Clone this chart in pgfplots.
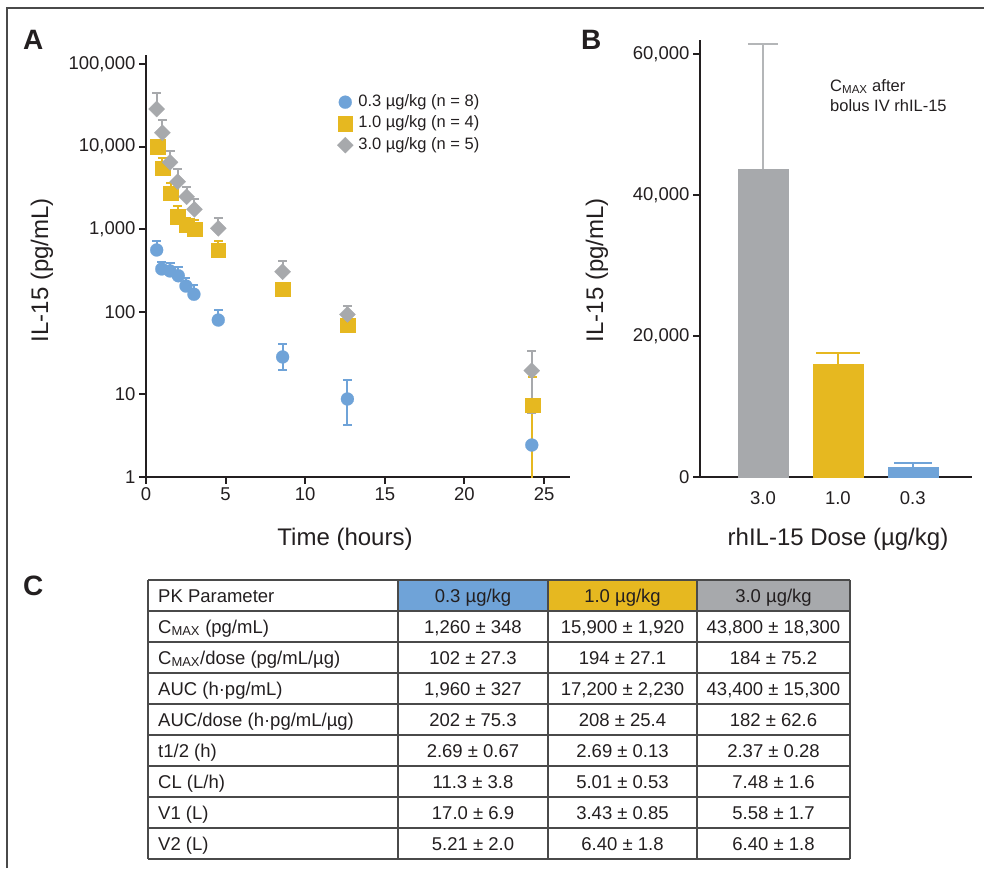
\documentclass[border=0pt]{standalone}
\usepackage{pgfplots}
\pgfplotsset{compat=1.18}
\usepackage{pgfplotstable}
\usepackage{fontspec}
\setmainfont{Liberation Sans}

\definecolor{doseblue}{HTML}{6FA3D8}
\definecolor{doseyellow}{HTML}{E6B820}
\definecolor{dosegray}{HTML}{A7A9AC}
\definecolor{ink}{HTML}{231F20}
\definecolor{rule}{HTML}{4A4A4A}

\newcommand{\tickfont}{\fontsize{18.5}{22}\selectfont}
\newcommand{\labfont}{\fontsize{24}{28}\selectfont}
\newcommand{\legfont}{\fontsize{16.5}{20}\selectfont}
\newcommand{\tabfont}{\fontsize{18.5}{22}\selectfont}
\newcommand{\panelfont}{\fontsize{28}{32}\selectfont\bfseries}

% panel A: mean IL-15 vs time, error = upper (ep) and lower (em)
\pgfplotstableread{
x     y     ep    em
0.67  560   160   0
0.99  330   74    0
1.51  312   81    0
2.03  273   79    0
2.51  205   54    0
3.01  163   48    0
4.54  79.5  25.5  0
8.58  28.4  12.4  8.7
12.65 8.8   6.1   4.5
24.23 2.44  0     0
}\blueA
\pgfplotstableread{
x     y     ep    em
0.73  9980  2000  0
1.03  5460  1750  0
1.55  2720  870   0
1.99  1417  493   0
2.55  1125  230   0
3.04  1005  285   0
4.54  560   160   0
8.58  187   0     0
12.65 69    0     0
24.27 7.44  9.0   7.43
}\yellowA
\pgfplotstableread{
x     y     ep    em
0.67  28500 15700 0
1.03  14700 6300  0
1.51  6460  2390  0
1.99  3760  1550  0
2.55  2470  800   0
3.04  1740  600   0
4.54  1025  342   0
8.58  306   106   0
12.65 93    24    0
24.23 19.4  14.4  13.5
}\grayA

\newcommand{\tabrow}[5]{%
  \pgfmathsetmacro{\rb}{-(580+31*#1+22)}%
  \node[anchor=base west, inner sep=0pt] at (158,\rb) {\tabfont #2};
  \node[anchor=base, inner sep=0pt] at (473,\rb) {\tabfont #3};
  \node[anchor=base, inner sep=0pt] at (622.5,\rb) {\tabfont #4};
  \node[anchor=base, inner sep=0pt] at (773.5,\rb) {\tabfont #5};
}

\begin{document}
\begin{tikzpicture}[x=1pt,y=1pt]
\useasboundingbox (0,0) rectangle (984,-868);

% outer frame (top and left only)
\draw[rule, line width=1.5pt] (7,-868) -- (7,-8) -- (984,-8);

% ---------------- Panel A ----------------
\begin{axis}[
  at={(146pt,-477pt)}, anchor=south west,
  scale only axis, width=424pt, height=422pt,
  xmin=0, xmax=26.63, ymode=log, ymin=1, ymax=128500,
  axis lines=left, axis line style={-, line width=2pt, ink},
  xtick={0,5,10,15,20,25}, xticklabels={0,5,10,15,20,25},
  ytick={1,10,100,1000,10000,100000},
  yticklabels={1,10,100,{1,000},{10,000},{100,000}},
  yminorticks=false,
  tick align=outside, major tick length=7pt,
  tick style={ink, line width=2pt},
  tick label style={font=\tickfont, text=ink},
  legend cell align=left,
  legend image code/.code={\draw[#1] plot coordinates {(0pt,0pt)};},
  legend style={at={(rel axis cs:0.4505,0.91)}, anchor=north west,
    draw=none, fill=none, inner sep=0pt, column sep=4pt, row sep=3.5pt,
    font=\legfont, text=ink,
    nodes={inner sep=1pt, text height=12pt, text depth=4pt}},
]
% error bars first, markers on top
\addplot[doseblue, only marks, mark=none, forget plot,
  error bars/.cd, y dir=both, y explicit,
  error bar style={line width=2pt, doseblue},
  error mark options={rotate=90, mark size=4.5pt, line width=2pt, doseblue}]
  table[x=x, y=y, y error plus=ep, y error minus=em] {\blueA};
\addplot[doseyellow, only marks, mark=none, forget plot,
  error bars/.cd, y dir=both, y explicit,
  error bar style={line width=2pt, doseyellow},
  error mark options={rotate=90, mark size=4.5pt, line width=2pt, doseyellow}]
  table[x=x, y=y, y error plus=ep, y error minus=em] {\yellowA};
\addplot[dosegray, only marks, mark=none, forget plot,
  error bars/.cd, y dir=both, y explicit,
  error bar style={line width=2pt, dosegray},
  error mark options={rotate=90, mark size=4.5pt, line width=2pt, dosegray}]
  table[x=x, y=y, y error plus=ep, y error minus=em] {\grayA};

\addplot[doseblue, only marks, mark=*, mark size=6.5pt,
  mark options={fill=doseblue, draw=doseblue, line width=0.2pt}] table[x=x, y=y] {\blueA};
\addplot[doseyellow, only marks, mark=square*, mark size=7.2pt,
  mark options={fill=doseyellow, draw=doseyellow, line width=0.2pt}] table[x=x, y=y] {\yellowA};
\addplot[dosegray, only marks, mark=square*, mark size=5.7pt,
  mark options={fill=dosegray, draw=dosegray, line width=0.2pt, rotate=45}] table[x=x, y=y] {\grayA};
\legend{0.3 µg/kg (n = 8), 1.0 µg/kg (n = 4), 3.0 µg/kg (n = 5)}
\end{axis}

% ---------------- Panel B ----------------
\begin{axis}[
  at={(700pt,-477pt)}, anchor=south west,
  scale only axis, width=272pt, height=437pt,
  xmin=-0.84, xmax=2.79, ymin=0, ymax=62000,
  axis lines=left, axis line style={-, line width=2pt, ink},
  xtick={0,1,2}, xticklabels={3.0,1.0,0.3}, xtick style={draw=none},
  ytick={0,20000,40000,60000}, yticklabels={0,{20,000},{40,000},{60,000}},
  scaled y ticks=false,
  tick align=outside, major tick length=7pt,
  ytick style={ink, line width=2pt},
  tick label style={font=\tickfont, text=ink},
  xticklabel style={yshift=-4pt},
]
\addplot[ybar, bar width=50pt, bar shift=0pt, fill=dosegray, draw=dosegray, line width=0.1pt,
  error bars/.cd, y dir=plus, y explicit,
  error bar style={line width=1.8pt, dosegray!85!white},
  error mark options={rotate=90, mark size=15pt, line width=1.8pt, dosegray!85!white}]
  coordinates {(0,43700) +- (0,17700)};
\addplot[ybar, bar width=50pt, bar shift=0pt, fill=doseyellow, draw=doseyellow, line width=0.1pt,
  error bars/.cd, y dir=plus, y explicit,
  error bar style={line width=2pt, doseyellow},
  error mark options={rotate=90, mark size=22pt, line width=2pt, doseyellow}]
  coordinates {(1,16000) +- (0,1650)};
\addplot[ybar, bar width=50pt, bar shift=0pt, fill=doseblue, draw=doseblue, line width=0.1pt,
  error bars/.cd, y dir=plus, y explicit,
  error bar style={line width=1.8pt, doseblue},
  error mark options={rotate=90, mark size=19pt, line width=1.8pt, doseblue}]
  coordinates {(2,1420) +- (0,570)};
\end{axis}

% panel letters and axis titles
\node[anchor=base west, inner sep=0pt, text=ink] at (23,-49) {\panelfont A};
\node[anchor=base west, inner sep=0pt, text=ink] at (581,-49) {\panelfont B};
\node[anchor=base west, inner sep=0pt, text=ink] at (23,-595) {\panelfont C};

\node[rotate=90, text=ink] at (42,-270) {\labfont IL-15 (pg/mL)};
\node[anchor=base, text=ink, inner sep=0pt] at (345,-545) {\labfont Time (hours)};
\node[rotate=90, text=ink] at (597,-270) {\labfont IL-15 (pg/mL)};
\node[anchor=base, text=ink, inner sep=0pt] at (838,-545) {\labfont rhIL-15 Dose (µg/kg)};

\node[anchor=base west, inner sep=0pt, text=ink] at (830,-91) {\legfont C\textsubscript{MAX} after};
\node[anchor=base west, inner sep=0pt, text=ink] at (830,-111) {\legfont bolus IV rhIL-15};

% ---------------- Panel C: table ----------------
\fill[doseblue] (398,-580) rectangle (548,-611);
\fill[doseyellow] (548,-580) rectangle (697,-611);
\fill[dosegray] (697,-580) rectangle (850,-611);
\foreach \k in {0,...,9} {
  \draw[rule, line width=1.2pt] (148,{-580-31*\k}) -- (850,{-580-31*\k});
}
\foreach \cx in {148,398,548,697,850} {
  \draw[rule, line width=1.2pt] (\cx,-580) -- (\cx,-859);
}
\begin{scope}[text=ink]
\tabrow{0}{PK Parameter}{0.3 µg/kg}{1.0 µg/kg}{3.0 µg/kg}
\tabrow{1}{C\textsubscript{MAX} (pg/mL)}{1,260 ± 348}{15,900 ± 1,920}{43,800 ± 18,300}
\tabrow{2}{C\textsubscript{MAX}/dose (pg/mL/µg)}{102 ± 27.3}{194 ± 27.1}{184 ± 75.2}
\tabrow{3}{AUC (h·pg/mL)}{1,960 ± 327}{17,200 ± 2,230}{43,400 ± 15,300}
\tabrow{4}{AUC/dose (h·pg/mL/µg)}{202 ± 75.3}{208 ± 25.4}{182 ± 62.6}
\tabrow{5}{t1/2 (h)}{2.69 ± 0.67}{2.69 ± 0.13}{2.37 ± 0.28}
\tabrow{6}{CL (L/h)}{11.3 ± 3.8}{5.01 ± 0.53}{7.48 ± 1.6}
\tabrow{7}{V1 (L)}{17.0 ± 6.9}{3.43 ± 0.85}{5.58 ± 1.7}
\tabrow{8}{V2 (L)}{5.21 ± 2.0}{6.40 ± 1.8}{6.40 ± 1.8}
\end{scope}
\end{tikzpicture}
\end{document}
